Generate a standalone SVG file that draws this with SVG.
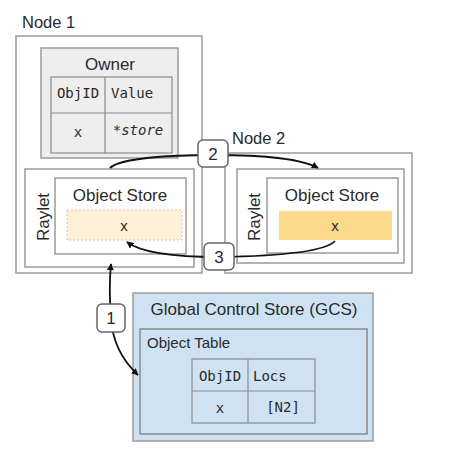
<svg xmlns="http://www.w3.org/2000/svg" width="476" height="464" viewBox="0 0 476 464">
  <style>
    .lbl { font-family: "Liberation Sans", Arial, sans-serif; fill: #2a2a2a; }
    .mono { font-family: "DejaVu Sans Mono", "Liberation Mono", monospace; font-size: 14px; fill: #2a2a2a; }
    .box { fill: #fff; stroke: #9a9a9a; stroke-width: 1.5; }
    .grid { fill: none; stroke: #8a8a8a; stroke-width: 1.2; }
    .conn { fill: none; stroke: #111; stroke-width: 1.8; }
    .tag { fill: #fff; stroke: #666; stroke-width: 1.5; }
  </style>
  <defs>
    <marker id="head" viewBox="0 0 10 10" refX="9" refY="5" markerWidth="7" markerHeight="7" markerUnits="userSpaceOnUse" orient="auto-start-reverse">
      <path d="M0,0 L10,5 L0,10 Z" fill="#111"/>
    </marker>
  </defs>
  <rect width="476" height="464" fill="#fff"/>

  <!-- Node 1 -->
  <g id="node1">
    <text class="lbl" x="22" y="28" font-size="16.5">Node 1</text>
    <rect class="box" x="16" y="36" width="186" height="237"/>
    <g id="owner">
      <rect x="41" y="48" width="137" height="110" fill="#eeeeee" stroke="#9a9a9a" stroke-width="1.5"/>
      <text class="lbl" x="110" y="70" font-size="17" text-anchor="middle">Owner</text>
      <rect class="grid" x="51" y="77" width="121" height="76"/>
      <line class="grid" x1="105" y1="77" x2="105" y2="153"/>
      <line class="grid" x1="51" y1="113" x2="172" y2="113"/>
      <text class="mono" x="78" y="98" text-anchor="middle">ObjID</text>
      <text class="mono" x="111" y="98">Value</text>
      <text class="mono" x="78" y="137" text-anchor="middle">x</text>
      <text class="mono" x="138" y="135" text-anchor="middle" font-style="italic">*store</text>
    </g>
    <g id="raylet1">
      <rect class="box" x="25" y="169" width="169" height="98"/>
      <text class="lbl" transform="translate(49,217) rotate(-90)" font-size="17" text-anchor="middle">Raylet</text>
      <rect class="box" x="55" y="178" width="131" height="76"/>
      <text class="lbl" x="120" y="201" font-size="17" text-anchor="middle">Object Store</text>
      <rect x="67" y="210" width="115" height="30" fill="#fdf0d6" stroke="#d5c6a8" stroke-width="1" stroke-dasharray="2,2"/>
      <text class="lbl" x="124" y="231" font-size="15" text-anchor="middle">x</text>
    </g>
  </g>

  <!-- Node 2 -->
  <g id="node2">
    <text class="lbl" x="232" y="144" font-size="16.5">Node 2</text>
    <rect class="box" x="225" y="153" width="187" height="120"/>
    <g id="raylet2">
      <rect class="box" x="237" y="169" width="167" height="94"/>
      <text class="lbl" transform="translate(260,217) rotate(-90)" font-size="17" text-anchor="middle">Raylet</text>
      <rect class="box" x="267" y="178" width="131" height="75"/>
      <text class="lbl" x="332" y="201" font-size="17" text-anchor="middle">Object Store</text>
      <rect x="279" y="211" width="113" height="29" fill="#fdd98b"/>
      <text class="lbl" x="335" y="231" font-size="15" text-anchor="middle">x</text>
    </g>
  </g>

  <!-- Global Control Store -->
  <g id="gcs">
    <rect x="133" y="293" width="240" height="148" fill="#cfe2f3" stroke="#9a9a9a" stroke-width="1.5"/>
    <text class="lbl" x="254" y="315" font-size="17" text-anchor="middle">Global Control Store (GCS)</text>
    <g id="object-table">
      <rect x="140" y="329" width="227" height="105" fill="#cfe2f3" stroke="#8a8a8a" stroke-width="1.5"/>
      <text class="lbl" x="147" y="348" font-size="15">Object Table</text>
      <rect class="grid" x="192" y="359" width="123" height="64"/>
      <line class="grid" x1="248" y1="359" x2="248" y2="423"/>
      <line class="grid" x1="192" y1="391" x2="315" y2="391"/>
      <text class="mono" x="220" y="381" text-anchor="middle">ObjID</text>
      <text class="mono" x="253" y="381">Locs</text>
      <text class="mono" x="220" y="413" text-anchor="middle">x</text>
      <text class="mono" x="283" y="412" text-anchor="middle">[N2]</text>
    </g>
  </g>

  <!-- Connectors -->
  <g id="connectors">
    <path class="conn" d="M110,168 C120,158 170,155 213,155 C260,155 300,158 318,168" marker-end="url(#head)"/>
    <path class="conn" d="M335,241 C325,252 280,256 219,257 C170,257 140,252 127,242" marker-end="url(#head)"/>
    <path class="conn" d="M111,264 C109,285 110,305 111,317 C112,340 122,360 138,375" marker-start="url(#head)" marker-end="url(#head)"/>
  </g>

  <!-- Step labels -->
  <g id="step2">
    <rect class="tag" x="198" y="140" width="30" height="27" rx="5"/>
    <text class="lbl" x="213" y="160" font-size="17" text-anchor="middle">2</text>
  </g>
  <g id="step3">
    <rect class="tag" x="204" y="243" width="30" height="27" rx="5"/>
    <text class="lbl" x="219" y="263" font-size="17" text-anchor="middle">3</text>
  </g>
  <g id="step1">
    <rect class="tag" x="97" y="304" width="28" height="28" rx="5"/>
    <text class="lbl" x="111" y="324" font-size="17" text-anchor="middle">1</text>
  </g>
</svg>
